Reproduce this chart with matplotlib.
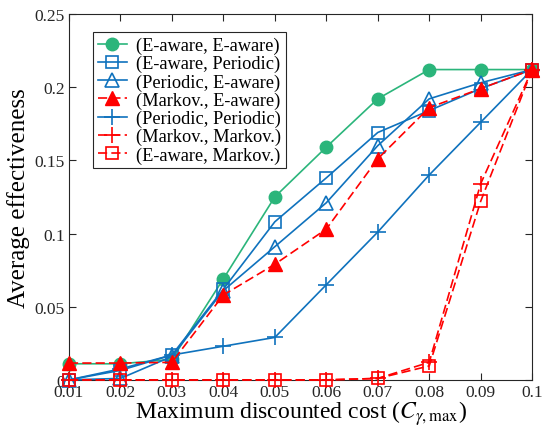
import numpy as np
import matplotlib
matplotlib.use("Agg")
import matplotlib.pyplot as plt

plt.rcParams['font.family'] = ['Liberation Serif', 'DejaVu Serif']
plt.rcParams['mathtext.fontset'] = 'stix'

cost = [0.01, 0.02, 0.03, 0.04, 0.05, 0.06, 0.07, 0.08, 0.09, 0.1]

eaware_eaware = [0.011, 0.011, 0.014, 0.069, 0.125, 0.159, 0.192, 0.212, 0.212, 0.212]
eaware_periodic = [0.0, 0.0065, 0.017, 0.062, 0.108, 0.138, 0.169, 0.184, 0.199, 0.212]
periodic_eaware = [0.0, 0.001, 0.016, 0.061, 0.091, 0.121, 0.160, 0.192, 0.203, 0.212]
markov_eaware = [0.0115, 0.0115, 0.012, 0.058, 0.079, 0.103, 0.151, 0.186, 0.199, 0.212]
periodic_periodic = [0.0, 0.0075, 0.017, 0.023, 0.029, 0.065, 0.101, 0.140, 0.176, 0.212]
markov_markov = [0.0, 0.0, 0.0, 0.0, 0.0, 0.0, 0.001, 0.012, 0.134, 0.212]
eaware_markov = [0.0, 0.0, 0.0, 0.0, 0.0, 0.0, 0.001, 0.0095, 0.122, 0.212]

green = '#2bb57b'
blue = '#0f72bd'
red = '#ff0000'
dash = (5.5, 2.5)

fig = plt.figure(figsize=(5.43, 4.27), dpi=100)
ax = fig.add_axes([0.127, 0.108, 0.853, 0.857])

ax.plot(cost, eaware_eaware, '-o', color=green, lw=1.2, ms=9, mfc=green, mec=green,
        label='(E-aware, E-aware)', clip_on=False, zorder=3)
ax.plot(cost, eaware_periodic, '-s', color=blue, lw=1.2, ms=9, mfc='none', mew=1.2,
        label='(E-aware, Periodic)', clip_on=False, zorder=3)
ax.plot(cost, periodic_eaware, '-^', color=blue, lw=1.2, ms=10, mfc='none', mew=1.2,
        label='(Periodic, E-aware)', clip_on=False, zorder=3)
ax.plot(cost, markov_eaware, '--^', color=red, lw=1.2, ms=10, mfc=red, mec=red, dashes=dash,
        label='(Markov., E-aware)', clip_on=False, zorder=4)
ax.plot(cost, periodic_periodic, '-+', color=blue, lw=1.2, ms=12, mew=1.2,
        label='(Periodic, Periodic)', clip_on=False, zorder=3)
ax.plot(cost, markov_markov, '--+', color=red, lw=1.2, ms=12, mew=1.2, dashes=dash,
        label='(Markov., Markov.)', clip_on=False, zorder=3)
ax.plot(cost, eaware_markov, '--s', color=red, lw=1.2, ms=9, mfc='none', mew=1.2, dashes=dash,
        label='(E-aware, Markov.)', clip_on=False, zorder=3)

ax.set_xlim(0.01, 0.1)
ax.set_ylim(0, 0.25)
ax.set_xticks(cost)
ax.set_xticklabels(['0.01', '0.02', '0.03', '0.04', '0.05', '0.06', '0.07', '0.08', '0.09', '0.1'])
ax.set_yticks([0, 0.05, 0.1, 0.15, 0.2, 0.25])
ax.set_yticklabels(['0', '0.05', '0.1', '0.15', '0.2', '0.25'])
ax.tick_params(direction='in', top=True, right=True, labelsize=12.5, length=5,
               colors='#262626', pad=3)
for s in ax.spines.values():
    s.set_color('#262626')
    s.set_linewidth(0.8)

ax.set_xlabel(r'Maximum discounted cost ($C_{\gamma,\mathrm{max}}$)', fontsize=17, labelpad=-1)
ax.set_ylabel('Average effectiveness', fontsize=18, labelpad=3)

leg = ax.legend(loc='upper left', bbox_to_anchor=(0.032, 0.975), fontsize=13.2,
                fancybox=False, edgecolor='#262626', framealpha=1,
                handlelength=1.6, handletextpad=0.5, labelspacing=0.05, borderpad=0.25)
leg.get_frame().set_linewidth(0.8)

fig.savefig('out.png', dpi=100)
